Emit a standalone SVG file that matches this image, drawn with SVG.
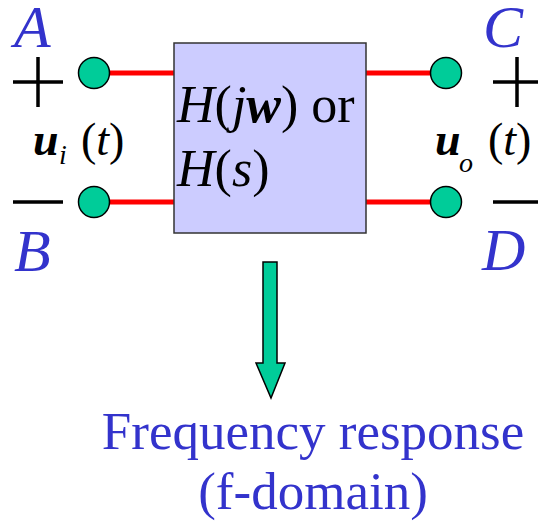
<svg xmlns="http://www.w3.org/2000/svg" width="538" height="523" viewBox="0 0 538 523">
<defs>
<circle id="term" r="15.5" fill="#00CC99" stroke="#000" stroke-width="1.5"/>
</defs>
<rect width="538" height="523" fill="#fff"/>
<g id="connectors" stroke="#FF0000" stroke-width="5" stroke-linecap="round">
<line x1="110" y1="73" x2="175" y2="73"/>
<line x1="110" y1="202" x2="175" y2="202"/>
<line x1="366" y1="73" x2="430" y2="73"/>
<line x1="366" y1="202" x2="430" y2="202"/>
</g>
<g id="box">
<rect x="174" y="43" width="192" height="190" fill="#CCCCFF" stroke="#333" stroke-width="1.5"/>
<text x="177" y="122" font-family="Liberation Serif" font-size="52"><tspan font-style="italic">H</tspan>(<tspan font-style="italic">j</tspan><tspan font-style="italic" font-weight="bold">w</tspan>) or</text>
<text x="177" y="186" font-family="Liberation Serif" font-size="52"><tspan font-style="italic">H</tspan>(<tspan font-style="italic">s</tspan>)</text>
</g>
<g id="termA"><use href="#term" x="94" y="73"/><text x="14" y="47" font-family="Liberation Serif" font-size="60" font-style="italic" fill="#3333CC">A</text></g>
<g id="termB"><use href="#term" x="94" y="202"/><text x="14" y="271" font-family="Liberation Serif" font-size="60" font-style="italic" fill="#3333CC">B</text></g>
<g id="termC"><use href="#term" x="446" y="73"/><text x="483" y="47" font-family="Liberation Serif" font-size="60" font-style="italic" fill="#3333CC">C</text></g>
<g id="termD"><use href="#term" x="446" y="202"/><text x="482" y="270" font-family="Liberation Serif" font-size="60" font-style="italic" fill="#3333CC">D</text></g>
<g id="input">
<path d="M13 82H63M38 57V107M13 202H63" stroke="#000" stroke-width="3.5" fill="none"/>
<text x="33" y="155" font-family="Liberation Serif" font-size="46" font-style="italic" font-weight="bold">u</text>
<text x="59" y="164" font-family="Liberation Serif" font-size="28" font-style="italic">i</text>
<text x="81" y="155" font-family="Liberation Serif" font-size="46">(<tspan font-style="italic">t</tspan>)</text>
</g>
<g id="output">
<path d="M493 82H541M517 57V107M493 202H541" stroke="#000" stroke-width="3.5" fill="none"/>
<text x="435" y="155" font-family="Liberation Serif" font-size="46" font-style="italic" font-weight="bold">u</text>
<text x="459" y="172" font-family="Liberation Serif" font-size="28" font-style="italic">o</text>
<text x="488" y="155" font-family="Liberation Serif" font-size="46">(<tspan font-style="italic">t</tspan>)</text>
</g>
<g id="arrow">
<path d="M263 262H277V363H285L271 398L256 363H263Z" fill="#00CC99" stroke="#000" stroke-width="1.5"/>
</g>
<g id="result">
<text x="313" y="449" font-family="Liberation Serif" font-size="53" fill="#3333CC" text-anchor="middle">Frequency response</text>
<text x="313" y="509" font-family="Liberation Serif" font-size="53" fill="#3333CC" text-anchor="middle">(f-domain)</text>
</g>
</svg>
